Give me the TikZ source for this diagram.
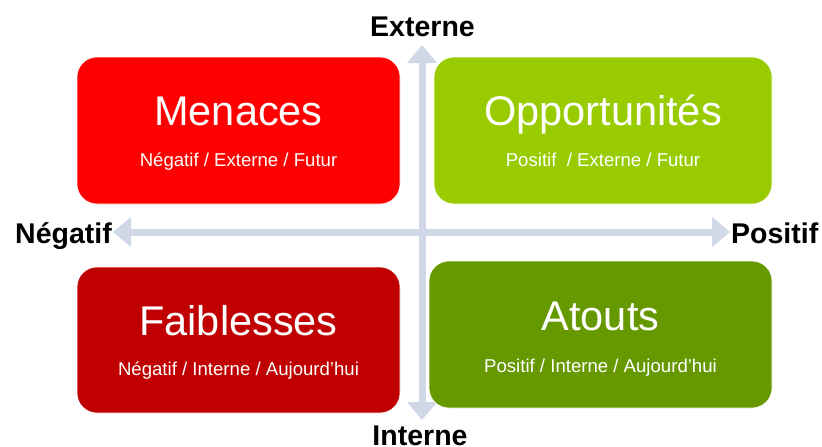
\documentclass[tikz,border=0pt]{standalone}
\usepackage{fontspec}
\setmainfont{Liberation Sans}
\usetikzlibrary{arrows.meta}
\definecolor{menred}{HTML}{FF0000}
\definecolor{faired}{HTML}{C00000}
\definecolor{oppgreen}{HTML}{99CC00}
\definecolor{atogreen}{HTML}{669900}
\definecolor{axisblue}{HTML}{D0D8E8}
\begin{document}
\begin{tikzpicture}[x=1pt,y=-1pt,
  quad/.style={rounded corners=20pt, draw=white, line width=0.6pt},
  ttl/.style={anchor=base, text=white, font=\fontsize{41.5}{45}\selectfont, inner sep=0pt},
  sub/.style={anchor=base, text=white, font=\fontsize{18.6}{21}\selectfont, inner sep=0pt},
  axlab/.style={anchor=base, text=black, font=\fontsize{28.5}{32}\selectfont\bfseries, inner sep=0pt},
  axisarrow/.style={draw=axisblue, line width=7pt, {Triangle[width=29pt,length=18pt]}-{Triangle[width=29pt,length=18pt]}}
]
\useasboundingbox (0,0) rectangle (822,447);
% axes
\coordinate (top) at (422,45);
\coordinate (bot) at (422,420);
\coordinate (lft) at (113,232);
\coordinate (rgt) at (730,232);
\draw[axisarrow] (top) -- (bot);
\draw[axisarrow] (lft) -- (rgt);
% boxes
\fill[menred, quad] (77,57) rectangle (400,204);
\fill[oppgreen, quad] (434,57) rectangle (772,204);
\fill[faired, quad] (77,267) rectangle (400,413);
\fill[atogreen, quad] (429,261) rectangle (772,408);
% texts
\node[ttl] (tm) at (238.5,125) {Menaces};
\node[sub] (sm) at (238.5,166) {Négatif / Externe / Futur};
\node[ttl] (to) at (603,125) {Opportunités};
\node[sub] (so) at (603,166) {Positif \ / Externe / Futur};
\node[ttl] (tf) at (238.5,335) {Faiblesses};
\node[sub] (sf) at (238.5,375) {Négatif / Interne / Aujourd’hui};
\node[ttl] (ta) at (600.5,330) {Atouts};
\node[sub] (sa) at (600.5,372) {Positif / Interne / Aujourd’hui};
% axis labels
\node[axlab] (ext) at (422.5,36) {Externe};
\node[axlab] (int) at (420,445) {Interne};
\node[axlab, anchor=base west] (neg) at (15,243) {Négatif};
\node[axlab, anchor=base west] (pos) at (731,243) {Positif};
\end{tikzpicture}
\end{document}
